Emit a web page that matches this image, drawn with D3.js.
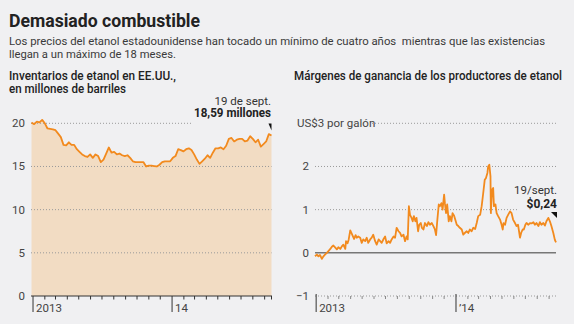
<!DOCTYPE html>
<html><head><meta charset="utf-8">
<script src="https://cdn.jsdelivr.net/npm/d3@7"></script>
<style>
html,body{margin:0;padding:0;background:#f0f0f2;}
svg{display:block;}
text{font-family:Roboto,"Liberation Sans",sans-serif;}
</style></head>
<body>
<svg id="c" width="574" height="324"></svg>
<script>
// ---------- data ----------
const titleText = "Demasiado combustible";
const subtitleLines = ["Los precios del etanol estadounidense han tocado un mínimo de cuatro años  mientras que las existencias", "llegan a un máximo de 18 meses."];
const leftTitle = ["Inventarios de etanol en EE.UU.,", "en millones de barriles"];
const rightTitle = "Márgenes de ganancia de los productores de etanol";

// weekly inventories, millions of barrels, first week ending 2012-12-28, last 2014-09-19
const invStart = "2012-12-28";
const inventories = [20.1,19.9,20.2,20.1,20.4,20.0,19.4,19.35,19.3,19.2,18.8,18.4,17.5,17.45,17.8,17.5,17.5,17.0,16.7,16.4,
  16.2,16.1,16.4,16.0,16.4,16.2,15.5,15.8,16.5,17.2,16.6,16.7,16.4,16.5,16.3,16.2,16.3,16.0,15.6,15.5,
  15.5,15.5,15.5,15.0,15.1,15.1,15.05,15.0,15.2,15.5,15.6,15.6,15.6,16.0,16.2,17.0,16.9,16.75,17.0,17.1,
  16.9,16.4,15.8,15.3,15.6,15.9,16.3,16.0,16.6,17.1,17.1,17.2,17.0,17.4,18.2,18.3,17.9,18.1,18.2,18.2,
  17.9,18.0,18.5,18.2,17.8,18.1,17.3,17.6,17.9,18.75,18.59];
const invTicks = [0,5,10,15,20];

// producer margins, US$ per gallon; days counted from 2013-01-01
const marginDays = [-3,2,6,10,15,19,23,28,32,37,41,45,50,54,58,63,67,71,76,78,82,85,89,92,96,99,103,106,110,115,
  119,123,128,132,136,141,145,149,154,158,163,167,171,176,180,184,189,193,197,202,206,210,215,219,223,228,232,236,239,242,
  245,249,252,255,259,262,266,269,273,276,280,284,289,293,297,302,306,310,313,316,320,323,327,330,334,336,339,342,346,349,
  353,356,360,363,367,371,375,380,384,388,393,397,401,406,410,415,419,423,428,432,436,440,443,447,449,452,455,456,459,462,
  464,468,471,475,480,484,487,489,493,497,501,506,510,514,519,523,527,532,535,539,542,546,549,554,558,562,567,571,575,580,
  584,588,593,597,601,606,610,614,619,623,626];
const margins = [-0.08,-0.04,-0.08,-0.05,-0.14,-0.08,-0.04,0,0.04,0.09,0.14,0.17,0.12,0.08,0.13,0.09,0.15,0.19,0.09,0.27,
  0.22,0.31,0.52,0.46,0.38,0.32,0.41,0.35,0.38,0.35,0.23,0.31,0.27,0.35,0.23,0.31,0.35,0.42,0.27,0.19,
  0.31,0.27,0.23,0.32,0.38,0.22,0.27,0.23,0.31,0.38,0.35,0.58,0.5,0.46,0.38,0.42,0.27,0.38,0.31,1.08,
  0.88,0.81,0.73,0.85,0.73,0.81,0.5,0.65,0.69,0.58,0.54,0.69,0.62,0.71,0.65,0.69,0.62,0.54,0.41,0.73,
  1.12,1.08,1.15,1.0,1.35,1.15,0.92,1.12,0.73,0.85,0.73,0.92,0.86,0.77,0.65,0.62,0.58,0.54,0.42,0.46,
  0.5,0.46,0.54,0.5,0.58,0.55,0.69,0.85,0.88,1.08,1.38,1.69,1.73,1.85,2.0,2.04,1.77,0.92,1.46,1.5,
  1.08,1.12,0.92,0.85,0.77,0.65,0.54,0.69,0.65,0.81,0.88,0.96,0.92,0.77,0.69,0.62,0.65,0.35,0.46,0.54,
  0.54,0.65,0.69,0.65,0.69,0.68,0.71,0.65,0.69,0.62,0.71,0.65,0.69,0.63,0.73,0.81,0.73,0.62,0.46,0.30,0.24];
const marginTicks = [-1,0,1,2,3];
const yearLabelsLeft = ["2013","14"];
const yearLabelsRight = ["2013","\u201914"];
const annLeft = ["19 de sept.","18,59 millones"];
const annRight = ["19/sept.","$0,24"];

// ---------- drawing ----------
const svg = d3.select("#c");
const orange = "#f28a1e", fillC = "#f2dcc3", dark = "#222", grey = "#444";
const parse = d3.timeParse("%Y-%m-%d");
const d0 = parse(invStart);
const invData = inventories.map((v,i)=>({d:d3.timeWeek.offset(d0,i), v}));
const jan1 = parse("2013-01-01");
const marData = margins.map((v,i)=>({d:d3.timeDay.offset(jan1, marginDays[i]), v}));
const lastDate = invData[invData.length-1].d;

// header
svg.append("text").attr("x",9).attr("y",26.5).text(titleText)
  .attr("font-family","'DejaVu Serif','Liberation Serif',serif").attr("font-weight","bold")
  .attr("font-size",19).attr("fill",dark).attr("textLength",191).attr("lengthAdjust","spacingAndGlyphs");
const subLens=[536,167];
subtitleLines.forEach((t,i)=>svg.append("text").attr("x",9).attr("y",44.5+i*13).text(t)
  .attr("font-size",11.2).attr("fill","#3a3a3a").style("white-space","pre")
  .attr("textLength",subLens[i]).attr("lengthAdjust","spacingAndGlyphs"));
const ltLens=[167,117];
leftTitle.forEach((t,i)=>svg.append("text").attr("x",9).attr("y",79.5+i*13.5).text(t)
  .attr("font-size",12).attr("font-weight",500).attr("fill",dark)
  .attr("textLength",ltLens[i]).attr("lengthAdjust","spacingAndGlyphs"));
svg.append("text").attr("x",294).attr("y",79.5).text(rightTitle)
  .attr("font-size",12).attr("font-weight",500).attr("fill",dark)
  .attr("textLength",268).attr("lengthAdjust","spacingAndGlyphs");

// ---------- left chart ----------
const xL = d3.scaleTime().domain([d0,lastDate]).range([31.5,271.5]);
const yL = d3.scaleLinear().domain([0,20]).range([296,123.3]);
const gL = svg.append("g");
gL.append("path").datum(invData)
  .attr("d",d3.area().x(d=>xL(d.d)).y0(yL(0)).y1(d=>yL(d.v)))
  .attr("fill",fillC);
invTicks.filter(t=>t>0).forEach(t=>{
  gL.append("line").attr("x1",31).attr("x2",t===20?193:271.5)
    .attr("y1",yL(t)).attr("y2",yL(t))
    .attr("stroke","#9a9a9a").attr("stroke-width",1).attr("stroke-dasharray","1,2");
});
gL.append("path").datum(invData)
  .attr("d",d3.line().x(d=>xL(d.d)).y(d=>yL(d.v)))
  .attr("fill","none").attr("stroke",orange).attr("stroke-width",1.8).attr("stroke-linejoin","round");
invTicks.forEach(t=>gL.append("text").attr("x",25).attr("y",yL(t)+4).attr("text-anchor","end")
  .attr("font-size",11.5).attr("fill",grey).text(t));
// x axis
const axL = gL.append("g").attr("transform","translate(0,296)");
axL.append("line").attr("x1",31).attr("x2",272).attr("stroke","#333").attr("stroke-width",1);
const monthsL = d3.timeMonth.range(d3.timeMonth.ceil(d0), lastDate);
monthsL.forEach(m=>{
  const isYear = m.getMonth()===0;
  axL.append("line").attr("x1",xL(m)).attr("x2",xL(m)).attr("y1",0).attr("y2",isYear?16:3.5)
    .attr("stroke","#333").attr("stroke-width",1);
});
axL.append("line").attr("x1",271.5).attr("x2",271.5).attr("y1",0).attr("y2",3.5).attr("stroke","#333");
[jan1, parse("2014-01-01")].forEach((d,i)=>axL.append("text").attr("x",xL(d)+3).attr("y",16)
  .attr("font-size",11.5).attr("fill",grey).text(yearLabelsLeft[i]));
// annotation
const lastInv = invData[invData.length-1];
gL.append("text").attr("x",271).attr("y",104.5).attr("text-anchor","end").attr("font-size",11.5)
  .attr("fill","#333").text(annLeft[0]);
gL.append("text").attr("x",271).attr("y",117).attr("text-anchor","end").attr("font-size",12)
  .attr("font-weight","bold").attr("fill",dark).text(annLeft[1])
  .attr("textLength",77).attr("lengthAdjust","spacingAndGlyphs");
const lx = xL(lastInv.d), ly = yL(lastInv.v);
gL.append("path").attr("d",`M${lx-3},${ly-12}L${lx},${ly-12}L${lx},${ly-5}Z`).attr("fill","#111");

// ---------- right chart ----------
const xR = d3.scaleTime().domain([d3.timeDay.offset(jan1,-3), lastDate]).range([315,556]);
const yR = d3.scaleLinear().domain([-1,3]).range([296,123.3]);
const gR = svg.append("g");
// gridlines
gR.append("line").attr("x1",372).attr("x2",556).attr("y1",yR(3)).attr("y2",yR(3))
  .attr("stroke","#9a9a9a").attr("stroke-dasharray","1,2");
gR.append("line").attr("x1",315).attr("x2",556).attr("y1",yR(2)).attr("y2",yR(2))
  .attr("stroke","#9a9a9a").attr("stroke-dasharray","1,2");
gR.append("line").attr("x1",315).attr("x2",518).attr("y1",yR(1)).attr("y2",yR(1))
  .attr("stroke","#9a9a9a").attr("stroke-dasharray","1,2");
gR.append("line").attr("x1",315).attr("x2",556).attr("y1",yR(0)).attr("y2",yR(0))
  .attr("stroke","#777").attr("stroke-width",1.5);
// y labels
marginTicks.filter(t=>t<3).forEach(t=>gR.append("text").attr("x",309).attr("y",yR(t)+4)
  .attr("text-anchor","end").attr("font-size",11.5).attr("fill",grey).text(t<0?"\u2212"+(-t):t));
gR.append("text").attr("x",297).attr("y",yR(3)+4).attr("font-size",11.5).attr("fill",grey).text("US$3 por galón");
// line
gR.append("path").datum(marData)
  .attr("d",d3.line().x(d=>xR(d.d)).y(d=>yR(d.v)))
  .attr("fill","none").attr("stroke",orange).attr("stroke-width",1.8).attr("stroke-linejoin","round");
// x axis
const axR = gR.append("g").attr("transform","translate(0,296)");
axR.append("line").attr("x1",315).attr("x2",556).attr("stroke","#999").attr("stroke-dasharray","1,2");
const monthsR = d3.timeMonth.range(d3.timeMonth.ceil(xR.domain()[0]), lastDate);
monthsR.forEach(m=>{
  const isYear = m.getMonth()===0;
  axR.append("line").attr("x1",xR(m)).attr("x2",xR(m)).attr("y1",isYear?-2:0).attr("y2",isYear?16:3)
    .attr("stroke",isYear?"#333":"#888").attr("stroke-width",1);
});
[jan1, parse("2014-01-01")].forEach((d,i)=>axR.append("text").attr("x",xR(d)+3).attr("y",16)
  .attr("font-size",11.5).attr("fill",grey).text(yearLabelsRight[i]));
// annotation
gR.append("text").attr("x",557).attr("y",194).attr("text-anchor","end").attr("font-size",11.5)
  .attr("fill","#333").text(annRight[0]);
gR.append("text").attr("x",557).attr("y",207.5).attr("text-anchor","end").attr("font-size",12)
  .attr("font-weight","bold").attr("fill",dark).text(annRight[1]);
gR.append("path").attr("d","M551,212L557,212L557,218Z").attr("fill","#111");
</script>
</body></html>
